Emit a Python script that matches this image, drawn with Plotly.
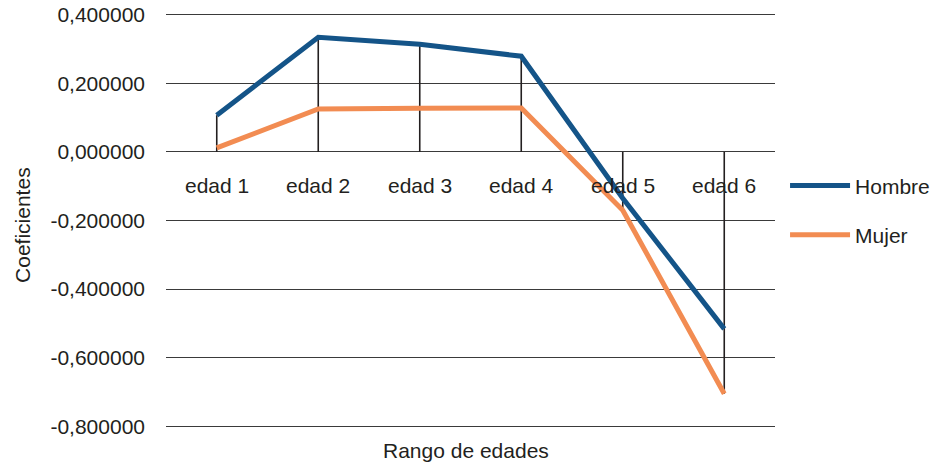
import plotly.graph_objects as go

categories = ["edad 1", "edad 2", "edad 3", "edad 4", "edad 5", "edad 6"]
hombre = [0.107, 0.334, 0.314, 0.279, -0.135, -0.516]
mujer = [0.012, 0.125, 0.127, 0.128, -0.170, -0.705]
ytick_vals = [0.4, 0.2, 0.0, -0.2, -0.4, -0.6, -0.8]
ytick_text = ["0,400000", "0,200000", "0,000000", "-0,200000", "-0,400000", "-0,600000", "-0,800000"]

FONT = "Liberation Sans, Arial, sans-serif"
TXT = "#231f20"
FS = 21

fig = go.Figure()

# drop lines from the category axis (y=0) to the outermost point of each category
dx, dy = [], []
for c, h, m in zip(categories, hombre, mujer):
    v = h if abs(h) >= abs(m) else m
    dx += [c, c, None]
    dy += [0, v, None]
fig.add_trace(go.Scatter(x=dx, y=dy, mode="lines", line=dict(color="#231f20", width=1.6),
                         showlegend=False, hoverinfo="skip"))

fig.add_trace(go.Scatter(x=categories, y=hombre, name="Hombre", mode="lines", legendgroup="h",
                         line=dict(color="#145488", width=5)))
fig.add_trace(go.Scatter(x=categories, y=mujer, name="Mujer", mode="lines", legendgroup="m",
                         line=dict(color="#f28c52", width=5)))

for c in categories:
    fig.add_annotation(x=c, y=0, xref="x", yref="y", text=c, showarrow=False,
                       yanchor="middle", yshift=-34, font=dict(family=FONT, size=FS, color=TXT))

fig.add_annotation(x=0.493, y=0, xref="paper", yref="paper", text="Rango de edades",
                   showarrow=False, yanchor="middle", yshift=-22,
                   font=dict(family=FONT, size=FS, color=TXT))
fig.add_annotation(x=-0.236, y=0.49, xref="paper", yref="paper", text="Coeficientes",
                   showarrow=False, textangle=-90, xanchor="center", yanchor="middle",
                   font=dict(family=FONT, size=FS, color=TXT))

fig.update_layout(
    width=936, height=465,
    margin=dict(l=166, r=161, t=13, b=37, autoexpand=False),
    paper_bgcolor="white", plot_bgcolor="white",
    separators=",.",
    font=dict(family=FONT, size=FS, color=TXT),
    showlegend=True,
    legend=dict(x=1.0165, y=0.633, xanchor="left", yanchor="top", tracegroupgap=19,
                font=dict(family=FONT, size=FS, color=TXT), itemwidth=60,
                bgcolor="rgba(0,0,0,0)"),
    xaxis=dict(type="category", range=[-0.5, 5.5], showticklabels=False, showgrid=False,
               zeroline=False, showline=False, ticks="", automargin=False),
    yaxis=dict(range=[-0.805, 0.405], tickvals=ytick_vals, ticktext=ytick_text,
               showgrid=True, gridcolor="#3a3a3a", gridwidth=1, zeroline=False,
               showline=False, ticks="", ticklabelstandoff=20, automargin=False,
               ticklabeloverflow="allow",
               tickfont=dict(family=FONT, size=FS, color=TXT)),
)

fig.write_html("out.html", config={"displayModeBar": False},
               post_script="document.body.style.margin='0';document.body.style.overflow='hidden';")
